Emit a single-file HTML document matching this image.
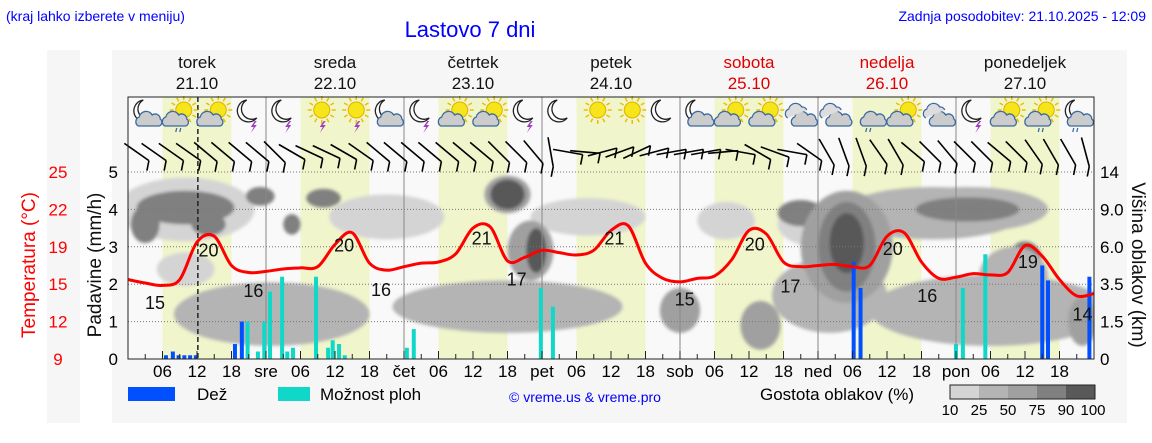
<!DOCTYPE html>
<html><head><meta charset="utf-8">
<style>
html,body{margin:0;padding:0;background:#fff;}
svg{display:block;font-family:"Liberation Sans",sans-serif;}
</style></head>
<body>
<svg id="chart" width="1152" height="443" viewBox="0 0 1152 443" xmlns="http://www.w3.org/2000/svg">
<defs>
<filter id="blur" x="-20%" y="-20%" width="140%" height="140%"><feGaussianBlur stdDeviation="1.5"/></filter>
<clipPath id="plotclip"><rect x="128" y="172" width="966" height="187"/></clipPath>
</defs>
<rect x="47" y="50" width="33" height="373" fill="#f6f6f6"/>
<rect x="112" y="50" width="1015" height="373" fill="#f6f6f6"/>
<text x="6" y="21" font-size="14" fill="#0000ff">(kraj lahko izberete v meniju)</text>
<text x="470" y="37" font-size="22" fill="#0000ff" text-anchor="middle">Lastovo 7 dni</text>
<text x="1146" y="21" font-size="14" fill="#0000ff" text-anchor="end">Zadnja posodobitev: 21.10.2025 - 12:09</text>
<rect x="128" y="97" width="966" height="262" fill="#f9f9f9"/>
<g id="bands"></g>
<g id="clouds" clip-path="url(#plotclip)" filter="url(#blur)"></g>
<g id="grid"></g>
<g id="icons"></g>
<g id="wind"></g>
<g id="bars"></g>
<g id="temp"></g>
<g id="axes"></g>
</svg>
<script>
const NS="http://www.w3.org/2000/svg";
// ---- data ----
const dayNames=["torek","sreda","četrtek","petek","sobota","nedelja","ponedeljek"];
const dayDates=["21.10","22.10","23.10","24.10","25.10","26.10","27.10"];
const dayShort=["","sre","čet","pet","sob","ned","pon"];
const tempHours=[0,3,6,9,12,15,18,21,24,27,30,33,36,39,42,45,48,51,54,57,60,63,66,69,72,75,78,81,84,87,90,93,96,99,102,105,108,111,114,117,120,123,126,129,132,135,138,141,144,147,150,153,156,159,162,165,168];
const tempValues=[15.8,15.5,15.3,15.8,19.0,19.5,17.0,16.4,16.5,16.7,16.8,16.9,18.8,19.8,17.2,16.6,16.9,17.2,17.3,18.0,20.2,20.3,17.4,17.7,18.3,18.1,17.9,18.3,20.0,20.4,17.2,15.9,15.6,15.9,16.1,17.5,20.0,19.7,17.3,16.9,17.0,17.1,16.9,17.0,19.5,19.8,17.3,15.9,16.0,16.3,16.2,16.4,18.7,17.8,15.8,14.4,14.6];
const extremeHours=[4.7,14,21.8,37.6,44,61.5,67.6,84.6,96.8,109,115.2,133,139,156.5,166];
const extremeLabels=["15","20","16","20","16","21","17","21","15","20","17","20","16","19","14"];
const extremeVals=[13.8,18.3,14.8,18.7,14.9,19.3,15.8,19.3,14.1,18.8,15.2,18.4,14.4,17.3,12.8];
const rainHours=[6.6,7.8,8.8,9.8,10.8,11.8,18.6,19.8,126.2,127.4,159.0,160.0,167.2];
const rainValues=[0.1,0.2,0.1,0.1,0.1,0.1,0.4,1.0,2.6,1.9,2.5,2.1,2.2];
const showerHours=[20.8,22.6,23.7,24.7,26.8,27.7,28.7,32.7,34.8,35.6,36.7,37.7,48.5,49.7,71.8,73.9,144.0,145.2,149.1];
const showerValues=[1.0,0.2,1.0,1.8,2.2,0.2,0.3,2.2,0.3,0.5,0.4,0.1,0.3,0.8,1.9,1.4,0.4,1.9,2.8];
const iconTypes=["moon-cloud","sun-cloud-rain","sun-cloud","moon-storm","moon-storm","sun-storm","sun-storm","moon-cloud","moon-storm","sun-cloud","sun-cloud","moon-storm","moon","sun","sun","moon","moon-cloud","sun-cloud","sun-cloud","clouds","clouds","cloud-rain","sun-cloud","clouds","moon-storm","sun-cloud","sun-cloud-rain","moon-cloud-rain"];
const windDirs=[-35,-35,-35,-35,-40,-40,-40,-40,-45,-30,-25,-25,-30,-35,-40,-40,-40,-40,-40,-40,-40,-45,-45,-50,-80,-10,-5,15,20,25,15,10,10,10,5,-10,-30,-20,-10,-35,-60,-70,-70,-55,-60,-40,-45,-50,-45,-45,-40,-45,-55,-60,-60,-75];
const cloudBlobs=[ // [hourCenter, level(mm scale), hourWidth, height, density%]
[10,4.0,24,1.7,20],[45,3.8,20,1.2,15],[80,3.8,20,1.0,12],[140,3.9,32,1.4,30],[120,3.6,14,1.2,20],[104,3.7,10,1.0,20],
[25,1.2,34,1.7,45],[66,1.4,40,1.4,45],[96,1.3,7,1.2,50],[110,0.9,7,1.3,50],[150,1.3,42,1.9,40],[122,1.7,20,2.0,40],[166,1.0,5,1.3,55],[10,2.4,10,0.9,20],
[10,4.05,17,0.9,80],[3,3.6,5,1.0,80],[23,4.35,5,0.5,80],[34,4.3,6,0.5,80],[28.5,3.6,3,0.55,75],[14,3.6,6,0.6,75],
[66,4.4,8,1.0,55],[66,4.4,6,0.8,92],[70,2.9,8,1.6,60],[71,2.9,3.5,1.2,90],
[117,3.9,8,0.7,75],[125,3.0,16,3.0,50],[125,3.0,10,2.4,80],[125,3.1,6,1.6,92],
[146,4.0,28,1.2,40],[146,4.0,18,0.65,80],[156,2.6,6,1.1,80],[154,2.2,12,1.6,45]];
// ---- scales ----
const X0=128,PX_H=5.75,Y0=359,PX_MM=37.4;
const xh=h=>X0+h*PX_H;
const ymm=v=>Y0-v*PX_MM;
const yt=t=>Y0-(t-9)/16*187;
function el(tag,attrs,parent,text){const e=document.createElementNS(NS,tag);for(const k in attrs)e.setAttribute(k,attrs[k]);if(text!==undefined)e.textContent=text;parent.appendChild(e);return e;}
const g=id=>document.getElementById(id);
// bands
for(let d=0;d<7;d++){
 const b=el('rect',{x:xh(d*24+6),y:97,width:12*PX_H,height:262,fill:'#f0f5cc'},g('bands'));
 
 
}
// clouds
function shade(p){return p>=90?'#595959':p>=75?'#808080':p>=50?'#a0a0a0':p>=25?'#b4b4b4':'#d4d4d4';}
cloudBlobs.forEach(c=>{
 const e=el('ellipse',{cx:xh(c[0]),cy:ymm(c[1]),rx:c[2]*PX_H/2,ry:c[3]*PX_MM/2,fill:shade(c[4])},g('clouds'));
 
 
});
// grid
for(let v=1;v<=5;v++){const l=el('line',{x1:128,x2:1094,y1:ymm(v),y2:ymm(v),stroke:'#777','stroke-dasharray':'1,2','stroke-width':1},g('grid'));
 
 }
for(let d=1;d<7;d++){const l=el('line',{x1:xh(d*24),x2:xh(d*24),y1:97,y2:359,stroke:'#888','stroke-width':1},g('grid'));
 
 }
const now=el('line',{x1:xh(12.15),x2:xh(12.15),y1:97,y2:359,stroke:'#222','stroke-dasharray':'5,3','stroke-width':1.5},g('grid'));


// icons
function drawIcon(type,cx,cy,p){
 const grp=el('g',{},p);
 
 
 const hasSun=type.startsWith('sun'),hasMoon=type.startsWith('moon');
 if(hasSun){for(let i=0;i<12;i++){const a=i*Math.PI/6;el('line',{x1:cx+4+Math.cos(a)*10,y1:cy-4+Math.sin(a)*10,x2:cx+4+Math.cos(a)*14,y2:cy-4+Math.sin(a)*14,stroke:'#e8c000','stroke-width':1.5},grp);}
  el('circle',{cx:cx+4,cy:cy-4,r:8,fill:'#f5e51a',stroke:'#e0b000'},grp);}
 if(hasMoon){el('path',{d:`M${cx-2} ${cy-14} A11 11 0 1 0 ${cx+8} ${cy+4} A9 9 0 1 1 ${cx-2} ${cy-14}Z`,fill:'#fff',stroke:'#222','stroke-width':1.3},grp);}
 const hasCloud=type.includes('cloud');
 if(hasCloud){const ox=hasSun?-5:3,oy=4;
  el('path',{d:`M${cx+ox-10} ${cy+oy+8} a5 5 0 0 1 1-9 a7 7 0 0 1 13-2 a5 5 0 0 1 8 4 a4 4 0 0 1 -1 7z`,fill:'#ccc',stroke:'#3a6aa0','stroke-width':1.3},grp);
  if(type==='clouds')el('path',{d:`M${cx-13} ${cy+4} a5 5 0 0 1 1-9 a7 7 0 0 1 13-2 a5 5 0 0 1 5 3`,fill:'#ddd',stroke:'#3a6aa0','stroke-width':1.2},grp);}
 if(type.includes('storm'))el('path',{d:`M${cx+6} ${cy+7} l-4 6 h3 l-3 6 l6-8 h-3 l3-4z`,fill:'#a040c0'},grp);
 if(type.includes('rain')){el('line',{x1:cx-3,y1:cy+14,x2:cx-4,y2:cy+18,stroke:'#3a6aa0','stroke-width':1.3},grp);el('line',{x1:cx+1,y1:cy+14,x2:cx,y2:cy+18,stroke:'#3a6aa0','stroke-width':1.3},grp);}
}
iconTypes.forEach((t,i)=>drawIcon(t,xh(i*6+3),114,g('icons')));
// wind barbs
windDirs.forEach((a,i)=>{
 const cx=xh(i*3+1.5),cy=152;const r=a*Math.PI/180;
 const dx=Math.cos(r)*15,dy=-Math.sin(r)*15;
 const grp=el('g',{stroke:'#000','stroke-width':1.6,fill:'none'},g('wind'));
 
 
 const x1=cx-dx,y1=cy-dy,x2=cx+dx,y2=cy+dy;
 el('line',{x1,y1,x2,y2},grp);
 el('line',{x1:x2,y1:y2,x2:x2-2,y2:y2+10},grp);
});
// bars
rainHours.forEach((h,i)=>{const r=el('rect',{x:xh(h)-2,y:ymm(rainValues[i]),width:4,height:rainValues[i]*PX_MM,fill:'#0050ff'},g('bars'));
 
 });
showerHours.forEach((h,i)=>{const r=el('rect',{x:xh(h)-2,y:ymm(showerValues[i]),width:4,height:showerValues[i]*PX_MM,fill:'#10d8c8'},g('bars'));
 
 });
// temperature
const pts=tempHours.map((h,i)=>[xh(h),yt(tempValues[i])]);
let d=`M${pts[0][0]} ${pts[0][1]}`;
for(let i=0;i<pts.length-1;i++){const p0=pts[Math.max(0,i-1)],p1=pts[i],p2=pts[i+1],p3=pts[Math.min(pts.length-1,i+2)];
 d+=` C${p1[0]+(p2[0]-p0[0])/6} ${p1[1]+(p2[1]-p0[1])/6} ${p2[0]-(p3[0]-p1[0])/6} ${p2[1]-(p3[1]-p1[1])/6} ${p2[0]} ${p2[1]}`;}
const tl=el('path',{d,fill:'none',stroke:'#ff0000','stroke-width':3},g('temp'));


extremeHours.forEach((h,i)=>{const t=el('text',{x:xh(h),y:yt(extremeVals[i])+6,'font-size':18,'text-anchor':'middle',fill:'#111'},g('temp'),extremeLabels[i]);
 
 });
// axes
const ax=g('axes');
el('rect',{x:128,y:97,width:966,height:262,fill:'none',stroke:'#222','stroke-width':1},ax);
for(let h=3;h<168;h+=3){el('line',{x1:xh(h),x2:xh(h),y1:359,y2:h%6?354:351,stroke:'#222'},ax);}
for(let dd=0;dd<7;dd++){
 [6,12,18].forEach(hh=>{const t=el('text',{x:xh(dd*24+hh),y:377,'font-size':17,'text-anchor':'middle'},ax,String(hh).padStart(2,'0'));
  
  });
 if(dd>0){const t=el('text',{x:xh(dd*24),y:377,'font-size':17,'text-anchor':'middle'},ax,dayShort[dd]);
  
  }
 const red=dd===4||dd===5;
 const n=el('text',{x:xh(dd*24+12),y:68,'font-size':17,'text-anchor':'middle',fill:red?'#e00000':'#111'},ax,dayNames[dd]);
 
 
 const dt=el('text',{x:xh(dd*24+12),y:89,'font-size':17,'text-anchor':'middle',fill:red?'#e00000':'#111'},ax,dayDates[dd]);
 
 
}
const mmTicks=["0","1","2","3","4","5"];
mmTicks.forEach((s,i)=>{const t=el('text',{x:118,y:ymm(i)+6,'font-size':17,'text-anchor':'end'},ax,s);
 
 });
const tempTicks=["9","12","15","19","22","25"];
tempTicks.forEach((s,i)=>{const t=el('text',{x:58,y:ymm(i)+6,'font-size':17,'text-anchor':'middle',fill:'#ff0000'},ax,s);
 
 });
const kmTicks=["0","1.5","3.5","6.0","9.0","14"];
kmTicks.forEach((s,i)=>{const t=el('text',{x:1100,y:ymm(i)+6,'font-size':17},ax,s);
 
 });
</script>
<svg style="position:absolute;left:0;top:0" width="1152" height="443" xmlns="http://www.w3.org/2000/svg" font-family="Liberation Sans, sans-serif">
<text transform="translate(35,265) rotate(-90)" font-size="19" fill="#ff0000" text-anchor="middle">Temperatura (°C)</text>
<text transform="translate(101,265) rotate(-90)" font-size="19" fill="#111" text-anchor="middle">Padavine (mm/h)</text>
<text transform="translate(1132,265) rotate(90)" font-size="19" fill="#111" text-anchor="middle">Višina oblakov (km)</text>
<rect x="128" y="387" width="47" height="14" fill="#0050ff"/>
<text x="197" y="400" font-size="17">Dež</text>
<rect x="278" y="387" width="32" height="14" fill="#10d8c8"/>
<text x="320" y="400" font-size="17">Možnost ploh</text>
<text x="585" y="402" font-size="14" fill="#0000ff" text-anchor="middle">© vreme.us &amp; vreme.pro</text>
<text x="760" y="400" font-size="17">Gostota oblakov (%)</text>
<g>
<rect x="950" y="385" width="29" height="14" fill="#d4d4d4"/>
<rect x="979" y="385" width="29" height="14" fill="#b4b4b4"/>
<rect x="1008" y="385" width="29" height="14" fill="#a0a0a0"/>
<rect x="1037" y="385" width="29" height="14" fill="#808080"/>
<rect x="1066" y="385" width="29" height="14" fill="#595959"/>
<rect x="950" y="385" width="145" height="14" fill="none" stroke="#222"/>
</g>
<g font-size="15" text-anchor="middle">
<text x="950" y="415">10</text><text x="979" y="415">25</text><text x="1008" y="415">50</text><text x="1037" y="415">75</text><text x="1066" y="415">90</text><text x="1093" y="415">100</text>
</g>
</svg>
</body></html>
